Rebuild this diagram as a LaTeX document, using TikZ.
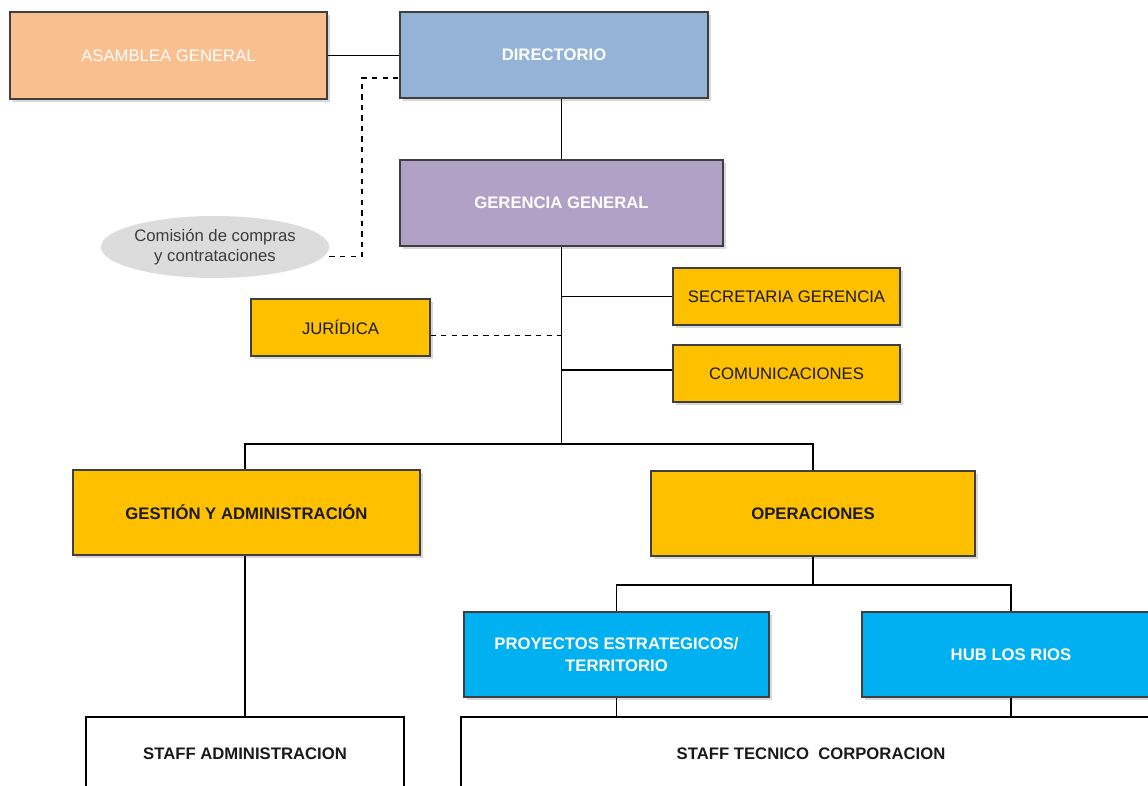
\documentclass[tikz,border=0pt]{standalone}
\usepackage{fontspec}
\setmainfont{Liberation Sans}
\usepackage{tikz}
\usetikzlibrary{shapes,positioning,calc,shadows}
\usepackage{xcolor}
\definecolor{peach}{HTML}{FABF8F}
\definecolor{dirblue}{HTML}{95B3D7}
\definecolor{lilac}{HTML}{B2A1C7}
\definecolor{amber}{HTML}{FFC000}
\definecolor{skyblue}{HTML}{00B0F0}
\definecolor{frame}{HTML}{3F3F3F}
\definecolor{ovalgray}{HTML}{DCDCDC}
\definecolor{inktext}{HTML}{1A1A1A}

\tikzset{
  unit/.style={rectangle,draw=frame,line width=0.7pt,inner sep=0pt,align=center,
    font=\fontsize{9.5}{12}\selectfont,
    drop shadow={shadow xshift=1.6pt,shadow yshift=-1.6pt,opacity=0.3}},
  staffbox/.style={rectangle,draw=black,line width=0.7pt,fill=white,inner sep=0pt,
    font=\fontsize{9.5}{12}\selectfont\bfseries,text=inktext},
  conn/.style={draw=black,line width=0.6pt},
  dashline/.style={conn,dashed}
}

\begin{document}
\begin{tikzpicture}[x=0.02cm,y=-0.02cm]
        \clip (0,0) rectangle (1148,786);
        \fill[white] (0,0) rectangle (1148,786);

        % top level
        \node[unit,fill=peach,text=white,minimum width=6.34cm,minimum height=1.74cm] (asam) at (168.5,55.5) {ASAMBLEA GENERAL};
        \node[unit,fill=dirblue,text=white,font=\fontsize{9.5}{12}\selectfont\bfseries,minimum width=6.16cm,minimum height=1.72cm] (dir) at (554,55) {DIRECTORIO};
        \node[unit,fill=lilac,text=white,font=\fontsize{9.5}{12}\selectfont\bfseries,minimum width=6.46cm,minimum height=1.72cm] (ger) at (561.5,203) {GERENCIA GENERAL};
        \node[ellipse,fill=ovalgray,inner sep=0pt,minimum width=4.4cm,minimum height=1.24cm,align=center,text=inktext!85,font=\fontsize{9.5}{11.5}\selectfont] (com) at (215,247) {Comisión de compras\\y contrataciones};

        % staff of the manager
        \node[unit,fill=amber,text=inktext,minimum width=4.54cm,minimum height=1.14cm] (sec) at (786.5,296.5) {SECRETARIA GERENCIA};
        \node[unit,fill=amber,text=inktext,minimum width=4.54cm,minimum height=1.14cm] (comu) at (786.5,373.5) {COMUNICACIONES};
        \node[unit,fill=amber,text=inktext,minimum width=3.58cm,minimum height=1.14cm] (jur) at (340.5,327.5) {JURÍDICA};

        % areas
        \node[unit,fill=amber,text=inktext,font=\fontsize{9.5}{12}\selectfont\bfseries,minimum width=6.94cm,minimum height=1.70cm] (gest) at (246.5,512.5) {GESTIÓN Y ADMINISTRACIÓN};
        \node[unit,fill=amber,text=inktext,font=\fontsize{9.5}{12}\selectfont\bfseries,minimum width=6.48cm,minimum height=1.70cm] (oper) at (813,513.5) {OPERACIONES};
        \node[unit,fill=skyblue,text=white,font=\fontsize{9.5}{12}\selectfont\bfseries,minimum width=6.10cm,minimum height=1.70cm] (proy) at (616.5,654.5) {PROYECTOS ESTRATEGICOS/\\TERRITORIO};
        \node[unit,fill=skyblue,text=white,font=\fontsize{9.5}{12}\selectfont\bfseries,minimum width=5.96cm,minimum height=1.70cm] (hub) at (1011,654.5) {HUB LOS RIOS};

        % staff
        \node[staffbox,minimum width=6.36cm,minimum height=1.48cm] (staffA) at (245,754) {STAFF ADMINISTRACION};
        \node[staffbox,minimum width=14.0cm,minimum height=1.48cm] (staffT) at (811,754) {STAFF TECNICO\ \ CORPORACION};

        % connectors
        \coordinate (spine) at (ger.south |- 0,444);
        \coordinate (kdash) at (362,78);
        \coordinate (opbus) at (813,585);
        \coordinate (gestup) at (staffA.north |- gest.north);
        \coordinate (gestdown) at (staffA.north |- gest.south);
        \draw[conn] (asam.east) -- (asam.east -| dir.west);
        \draw[dashline] ([yshift=-5.6pt]com.east) -| (kdash) -- (kdash -| dir.west);
        \draw[conn] (ger.north) -- (ger.north |- dir.south);
        \draw[conn] (ger.south) -- (spine);
        \draw[conn] (sec.west) -- (sec.west -| spine);
        \draw[conn] ([yshift=2pt]comu.west) -- ([yshift=2pt]comu.west -| spine);
        \draw[dashline] ([yshift=-4.6pt]jur.east) -- ([yshift=-4.6pt]jur.east -| spine);
        \draw[conn] (gestup) |- (spine) -| (oper.north);
        \draw[conn] (oper.south) -- (opbus);
        \draw[conn] (proy.north) |- (opbus) -| (hub.north);
        \draw[conn] (gestdown) -- (staffA.north);
        \draw[conn] (proy.south) -- (proy.south |- staffT.north);
        \draw[conn] (hub.south) -- (hub.south |- staffT.north);
    \end{tikzpicture}
\end{document}
